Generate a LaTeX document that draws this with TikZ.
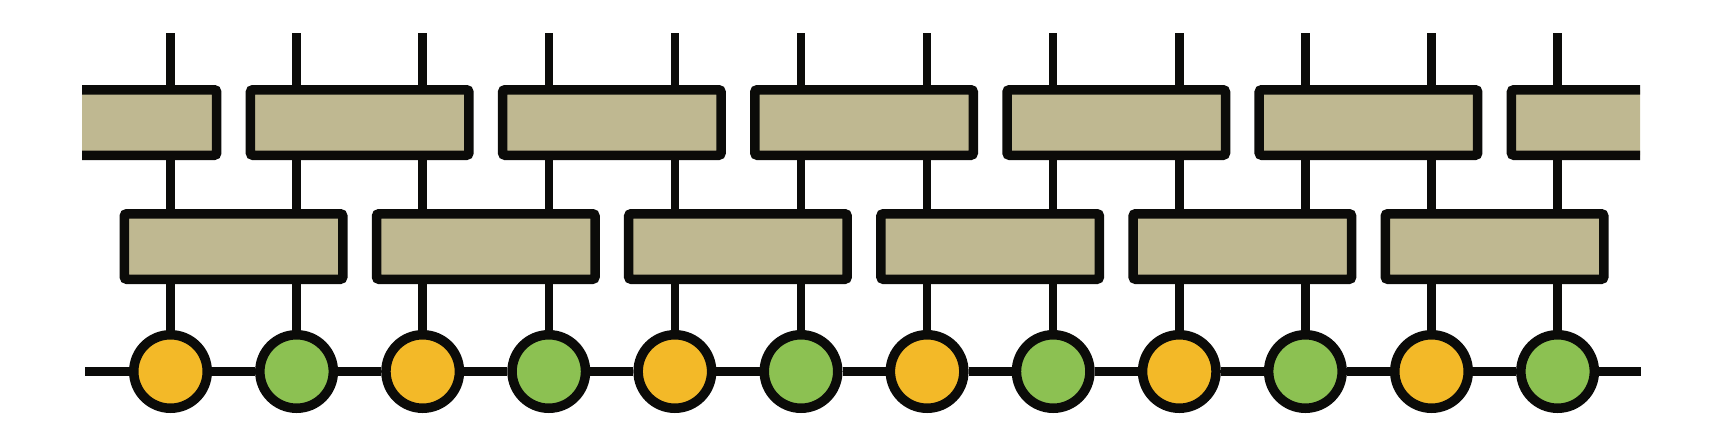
\documentclass[tikz,border=0pt]{standalone}
\usepackage{tikz}
\definecolor{ink}{HTML}{0B0B09}
\definecolor{sand}{HTML}{BFB891}
\definecolor{amber}{HTML}{F3B928}
\definecolor{leaf}{HTML}{8CC152}
\tikzset{px/.style={x=.2mm,y=-.2mm,line width=1.7mm,draw=ink},
  gate/.style={draw=ink,fill=sand,line width=1.9mm,rounded corners=.5mm,minimum width=43.7mm,minimum height=13.1mm,inner sep=0pt},
  site/.style={circle,draw=ink,line width=1.9mm,minimum size=14.7mm,inner sep=0pt}}

\begin{document}
\begin{tikzpicture}[px]
  \useasboundingbox (0,0) rectangle (1725,435);
  % sites and their legs
  \foreach \i in {0,...,11}{
    \ifodd\i\relax\def\col{leaf}\else\def\col{amber}\fi
    \node[site,fill=\col] (s\i) at (170.5+126.1*\i,371.5){};
    \coordinate (l\i) at (170.5+126.1*\i,33);
    \draw[ink] (l\i)--(s\i);
  }
  \coordinate (wl) at (85,371.5);\coordinate (wr) at (1641,371.5);
  \draw[ink,line width=1.8mm] (wl)--(s0) (s11)--(wr);
  \foreach \i [count=\k] in {0,...,10}{\draw[ink,line width=1.8mm] (s\i)--(s\k);}
  % brick layers
  \foreach \j in {0,...,5}{\node[gate] (m\j) at (233.55+252.2*\j,246.5){};}
  \begin{scope}
    \clip (82,0) rectangle (1640,435);
    \foreach \j in {0,...,6}{\node[gate] (t\j) at (107.45+252.2*\j,122.5){};}
  \end{scope}
\end{tikzpicture}
\end{document}
